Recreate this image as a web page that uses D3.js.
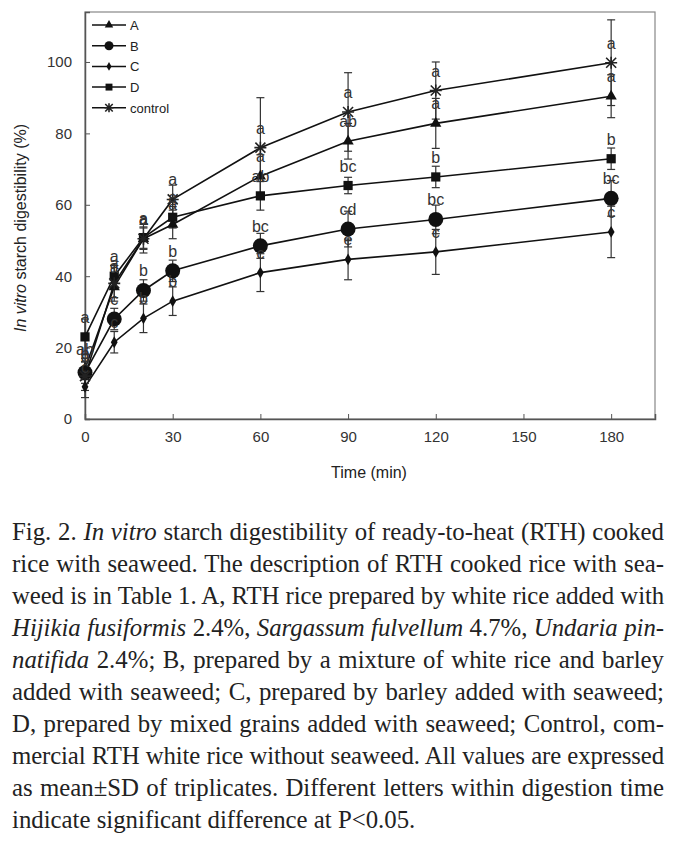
<!DOCTYPE html>
<html>
<head>
<meta charset="utf-8">
<script src="https://cdn.jsdelivr.net/npm/d3@7"></script>
<style>
  body { margin: 0; background: #fff; width: 676px; height: 853px; position: relative; overflow: hidden; }
  #graph { position: absolute; left: 0; top: 0; }
  #caption { position: absolute; left: 12px; top: 516px; width: 652px;
    font-family: "Liberation Serif", "Times New Roman", serif; font-size: 24.8px; line-height: 32px; color: #222; }
  #caption div { text-align: justify; text-align-last: justify; white-space: nowrap; }
  #caption div.last { text-align-last: left; }
</style>
</head>
<body>
<div id="graph"></div>
<div id="caption"></div>
<script>
// digestion time (min)
var times = [0, 10, 20, 30, 60, 90, 120, 180];
var seriesNames = ["A", "B", "C", "D", "control"];

// mean digestibility (%)
var valA    = [14, 37, 50.5, 54.5, 68, 77.8, 82.8, 90.4];
var valB    = [13, 28, 36, 41.5, 48.5, 53.2, 55.9, 61.8];
var valC    = [9, 21.5, 28.2, 33, 41, 44.7, 46.8, 52.4];
var valD    = [23, 40, 50.8, 56.5, 62.5, 65.4, 67.8, 72.9];
var valCtrl = [12, 38, 50.5, 61.5, 76, 86, 92, 99.8];

// SD
var sdA    = [3, 3, 3, 4, 6, 5, 7, 6];
var sdB    = [3, 3, 3, 3, 3.5, 5, 4, 5];
var sdC    = [3, 3, 4, 4, 5.3, 5.7, 6.3, 7.2];
var sdD    = [5, 3, 3, 3, 4, 2.3, 3, 3];
var sdCtrl = [4, 5, 4, 4, 14, 11, 8, 12];

// significance letters
var letA    = ["ab", "a", "a", "a", "a", "ab", "a", "a"];
var letB    = ["b", "c", "b", "b", "bc", "cd", "bc", "bc"];
var letC    = ["c", "c", "b", "b", "c", "e", "c", "c"];
var letD    = ["a", "a", "a", "a", "ab", "bc", "b", "b"];
var letCtrl = ["b", "a", "a", "a", "a", "a", "a", "a"];

var xTicks = [0, 30, 60, 90, 120, 150, 180];
var yTicks = [0, 20, 40, 60, 80, 100];

var captionLines = [
  'Fig. 2. <i>In vitro</i> starch digestibility of ready-to-heat (RTH) cooked',
  'rice with seaweed. The description of RTH cooked rice with sea-',
  'weed is in Table 1. A, RTH rice prepared by white rice added with',
  '<i>Hijikia fusiformis</i> 2.4%, <i>Sargassum fulvellum</i> 4.7%, <i>Undaria pin-</i>',
  '<i>natifida</i> 2.4%; B, prepared by a mixture of white rice and barley',
  'added with seaweed; C, prepared by barley added with seaweed;',
  'D, prepared by mixed grains added with seaweed; Control, com-',
  'mercial RTH white rice without seaweed. All values are expressed',
  'as mean±SD of triplicates. Different letters within digestion time',
  'indicate significant difference at P&lt;0.05.'
];

var width = 676, height = 500;
var series = [
  {name: "A", vals: valA, sd: sdA, let: letA, shape: "tri"},
  {name: "B", vals: valB, sd: sdB, let: letB, shape: "circle"},
  {name: "C", vals: valC, sd: sdC, let: letC, shape: "diamond"},
  {name: "D", vals: valD, sd: sdD, let: letD, shape: "square"},
  {name: "control", vals: valCtrl, sd: sdCtrl, let: letCtrl, shape: "star"}
];

var x = d3.scaleLinear().domain([0, 195]).range([85, 655]);
var y = d3.scaleLinear().domain([0, 114]).range([419, 12]);

var svg = d3.select("#graph").append("svg")
    .attr("width", width).attr("height", height);

// frame
svg.append("rect")
    .attr("x", x(0)).attr("y", y(114))
    .attr("width", x(195) - x(0)).attr("height", y(0) - y(114))
    .style("fill", "none").style("stroke", "#888").style("stroke-width", 1.2);

var font = "'Liberation Sans', Arial, sans-serif";

var xAxis = svg.append("g")
    .attr("transform", "translate(0," + y(0) + ")")
    .call(d3.axisBottom(x).tickValues(xTicks).tickSize(-5).tickPadding(12));
var yAxis = svg.append("g")
    .attr("transform", "translate(" + x(0) + ",0)")
    .call(d3.axisLeft(y).tickValues(yTicks).tickSize(-5).tickPadding(13));
[xAxis, yAxis].forEach(function (g) {
    g.select(".domain").style("stroke", "#555").style("stroke-width", 1.5);
    g.selectAll(".tick line").style("stroke", "#555");
    g.selectAll("text").style("font-family", font).style("font-size", "15px").style("fill", "#333");
});
xAxis.selectAll(".tick line").filter(function (d) { return d === 0; }).remove();
yAxis.selectAll(".tick line").filter(function (d) { return d === 0; }).remove();

svg.append("text")
    .attr("x", 369).attr("y", 478)
    .attr("text-anchor", "middle")
    .style("font-family", font).style("font-size", "16px").style("fill", "#222")
    .text("Time (min)");

var yt = svg.append("text")
    .attr("transform", "translate(26,228) rotate(-90)")
    .attr("text-anchor", "middle")
    .style("font-family", font).style("font-size", "16px").style("fill", "#222");
yt.append("tspan").style("font-style", "italic").text("In vitro");
yt.append("tspan").text(" starch digestibility (%)");

function marker(g, shape, big) {
    var s = big ? 1 : 0.75;
    if (shape === "circle") {
        g.append("circle").attr("r", big ? 7.5 : 4.5).style("fill", "#111");
    } else if (shape === "tri") {
        g.append("path").attr("d", d3.symbol().type(d3.symbolTriangle).size(55 * s * s)).style("fill", "#111");
    } else if (shape === "diamond") {
        g.append("path").attr("d", d3.symbol().type(d3.symbolDiamond).size(40 * s * s)).style("fill", "#111");
    } else if (shape === "square") {
        g.append("path").attr("d", d3.symbol().type(d3.symbolSquare).size(85 * s * s)).style("fill", "#111");
    } else {
        var r = 5 * s;
        var p = d3.path();
        p.moveTo(-r, -r); p.lineTo(r, r);
        p.moveTo(-r, r); p.lineTo(r, -r);
        p.moveTo(0, -r * 1.2); p.lineTo(0, r * 1.2);
        p.moveTo(-r * 1.2, 0); p.lineTo(r * 1.2, 0);
        g.append("path").attr("d", p.toString()).style("stroke", "#222").style("stroke-width", 1.6).style("fill", "none");
    }
}

var line = d3.line()
    .x(function (d, i) { return x(times[i]); })
    .y(function (d) { return y(d); });

// lines
svg.append("g").selectAll("path")
    .data(series).join("path")
    .attr("d", function (d) { return line(d.vals); })
    .style("fill", "none").style("stroke", "#111").style("stroke-width", 1.6);

// error bars
series.forEach(function (s) {
    var g = svg.append("g").style("stroke", "#333").style("stroke-width", 1.2);
    s.vals.forEach(function (v, i) {
        var cx = x(times[i]);
        g.append("line").attr("x1", cx).attr("x2", cx).attr("y1", y(v - s.sd[i])).attr("y2", y(v + s.sd[i]));
        g.append("line").attr("x1", cx - 4).attr("x2", cx + 4).attr("y1", y(v - s.sd[i])).attr("y2", y(v - s.sd[i]));
        g.append("line").attr("x1", cx - 4).attr("x2", cx + 4).attr("y1", y(v + s.sd[i])).attr("y2", y(v + s.sd[i]));
    });
});

// markers
series.forEach(function (s) {
    s.vals.forEach(function (v, i) {
        var g = svg.append("g").attr("transform", "translate(" + x(times[i]) + "," + y(v) + ")");
        marker(g, s.shape, true);
    });
});

// letters
series.forEach(function (s) {
    s.vals.forEach(function (v, i) {
        svg.append("text")
            .attr("x", x(times[i])).attr("y", y(v) - 14)
            .attr("text-anchor", "middle")
            .style("font-family", font).style("font-size", "16px").style("fill", "#333")
            .text(s.let[i]);
    });
});

// legend
var legend = svg.append("g").selectAll("g")
    .data(series).join("g")
    .attr("transform", function (d, i) { return "translate(92," + (25 + i * 20.7) + ")"; });
legend.append("line").attr("x1", 0).attr("x2", 34)
    .style("stroke", "#111").style("stroke-width", 1.5);
legend.each(function (d) {
    var g = d3.select(this).append("g").attr("transform", "translate(17,0)");
    marker(g, d.shape, false);
});
legend.append("text").attr("x", 38).attr("y", 5)
    .style("font-family", font).style("font-size", "13px").style("fill", "#222")
    .text(function (d) { return d.name; });

// caption
d3.select("#caption").selectAll("div")
    .data(captionLines).join("div")
    .attr("class", function (d, i) { return i === captionLines.length - 1 ? "last" : null; })
    .html(function (d) { return d; });

// squeeze any line that is wider than the box
d3.select("#caption").selectAll("div").each(function () {
    var el = this, ls = 0;
    el.style.display = "inline-block";
    var natural = el.getBoundingClientRect().width;
    el.style.display = "";
    if (natural > 650) {
        var chars = el.textContent.length;
        ls = (650 - natural) / chars;
        el.style.letterSpacing = ls + "px";
    }
});
</script>
</body>
</html>
